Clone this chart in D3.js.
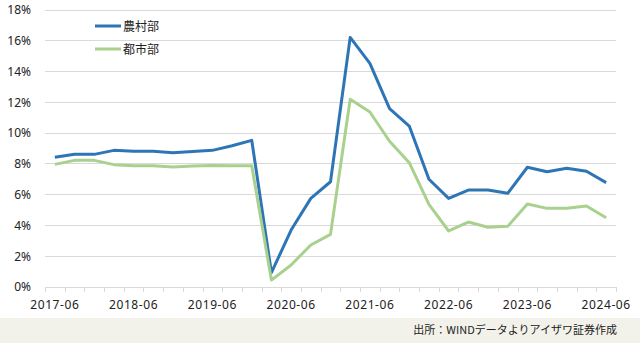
<!DOCTYPE html>
<html><head><meta charset="utf-8">
<script src="https://cdn.jsdelivr.net/npm/d3@7"></script>
<style>
html,body{margin:0;padding:0;background:#fff;}
svg{display:block;font-family:"Noto Sans","Noto Sans CJK JP",sans-serif;}
</style></head>
<body><svg id="c" width="640" height="343"></svg>
<script>
const categories = ["2017-06","2017-09","2017-12","2018-03","2018-06","2018-09","2018-12","2019-03","2019-06","2019-09","2019-12","2020-03","2020-06","2020-09","2020-12","2021-03","2021-06","2021-09","2021-12","2022-03","2022-06","2022-09","2022-12","2023-03","2023-06","2023-09","2023-12","2024-03","2024-06"];
const rural = [8.43,8.62,8.62,8.88,8.82,8.82,8.73,8.8,8.88,9.18,9.53,0.93,3.7,5.76,6.84,16.22,14.53,11.59,10.46,7.0,5.76,6.3,6.3,6.09,7.78,7.49,7.71,7.52,6.78];
const urban = [7.97,8.23,8.23,7.95,7.88,7.88,7.8,7.86,7.9,7.88,7.88,0.45,1.43,2.73,3.42,12.2,11.37,9.47,8.08,5.37,3.64,4.22,3.88,3.94,5.39,5.11,5.11,5.26,4.5];
const yTicks = [0,2,4,6,8,10,12,14,16,18];
const xLabels = ["2017-06","2018-06","2019-06","2020-06","2021-06","2022-06","2023-06","2024-06"];
const seriesNames = ["農村部","都市部"];
const colors = ["#2e75b6","#a9d18e"];
const source = "出所：WINDデータよりアイザワ証券作成";

const svg = d3.select("#c");
const L = 45, R = 616, T = 10, B = 287;

// footer band
svg.append("rect").attr("x",0).attr("y",318).attr("width",640).attr("height",25).attr("fill","#f2f2ea");
svg.append("text").attr("x",617).attr("y",334).attr("text-anchor","end")
  .attr("font-size",11).attr("fill","#222").attr("font-family","Noto Sans CJK JP").text(source);

const y = d3.scaleLinear().domain([0,18]).range([B,T]);
const xb = d3.scaleBand().domain(categories).range([L,R]).padding(0);
const xi = d3.scaleLinear().domain([0,categories.length]).range([L,R]);

// gridlines
svg.append("g").selectAll("line").data(yTicks.filter(d=>d>0)).join("line")
  .attr("x1",L).attr("x2",R).attr("y1",d=>y(d)).attr("y2",d=>y(d))
  .attr("stroke","#d9d9d9").attr("stroke-width",1).attr("shape-rendering","crispEdges");

// y axis labels
const ya = svg.append("g").attr("transform",`translate(${L},0)`)
  .call(d3.axisLeft(y).tickValues(yTicks).tickSize(0).tickPadding(14).tickFormat(d=>d+"%"));
ya.select(".domain").remove();
ya.selectAll("text").attr("font-size",12).attr("fill","#222").attr("font-family","Noto Sans");

// x axis boundary ticks
const xt = svg.append("g").attr("transform",`translate(0,${B})`)
  .call(d3.axisBottom(xi).tickValues(d3.range(0,categories.length+1)).tickSize(5).tickFormat(""));
xt.select(".domain").attr("stroke","#d9d9d9");
xt.selectAll("line").attr("stroke","#d9d9d9");
xt.attr("shape-rendering","crispEdges");

// x labels
const xa = svg.append("g").attr("transform",`translate(0,${B})`)
  .call(d3.axisBottom(xb).tickValues(xLabels).tickSize(0).tickPadding(13));
xa.select(".domain").remove();
xa.selectAll("text").attr("font-size",12).attr("fill","#222").attr("font-family","Noto Sans").attr("letter-spacing","0.6px");

// lines
const line = d3.line().x((d,i)=>xb(categories[i])+xb.bandwidth()/2).y(d=>y(d));
[rural,urban].forEach((s,k)=>{
  svg.append("path").datum(s).attr("d",line).attr("fill","none")
    .attr("stroke",colors[k]).attr("stroke-width",3).attr("stroke-linejoin","round");
});
// redraw rural on top? reference: rural appears over urban
svg.selectAll("path").filter((d,i,n)=>false);

// legend
const legY = [26,49];
seriesNames.forEach((n,k)=>{
  svg.append("line").attr("x1",95).attr("x2",121).attr("y1",legY[k]).attr("y2",legY[k])
    .attr("stroke",colors[k]).attr("stroke-width",3);
  svg.append("text").attr("x",123).attr("y",legY[k]+4.5).attr("font-size",12)
    .attr("fill","#222").attr("font-family","Noto Sans CJK JP").text(n);
});
</script></body></html>
